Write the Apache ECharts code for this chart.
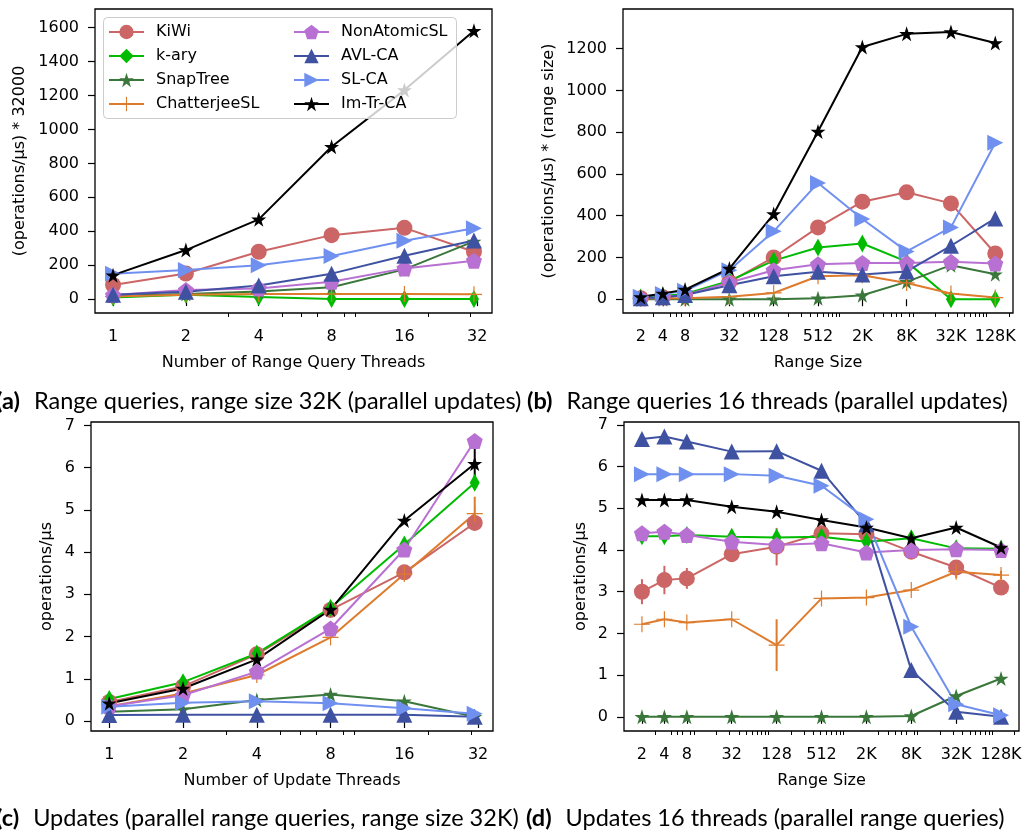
<!doctype html>
<html lang="en">
<head>
    <meta charset="UTF-8">
    <title>Range queries and updates</title>
    <script src="https://cdn.jsdelivr.net/npm/echarts@6/dist/echarts.min.js"></script>
    <style>
        html, body { margin: 0; padding: 0; background: #fff; }
        #chart { width: 1031px; height: 834px; }
    </style>
</head>
<body>
    <div id="chart"></div>

    <script>
        // --- series names / colours ---
        const names = ['KiWi', 'k-ary', 'SnapTree', 'ChatterjeeSL', 'NonAtomicSL', 'AVL-CA', 'SL-CA', 'Im-Tr-CA'];
        const colors = ['#cc6565', '#00bb00', '#3a773a', '#de7b2c', '#b870d2', '#3f52a2', '#7090f0', '#000000'];

        // --- x values and ticks ---
        const threads = [1, 2, 4, 8, 16, 31];
        const threadTicks = [1, 2, 4, 8, 16, 32];
        const threadMinor = [3, 5, 6, 7, 9, 10, 20, 30];
        const rangeSizes = [2, 4, 8, 32, 128, 512, 2048, 8192, 32768, 131072];
        const rangeTickLabels = ['2', '4', '8', '32', '128', '512', '2K', '8K', '32K', '128K'];
        const rangeMinor = [3, 5, 6, 7, 9, 10, 20, 30, 40, 50, 60, 70, 80, 90, 100, 200, 300, 400, 500, 600, 700, 800, 900,
            1000, 3000, 4000, 5000, 6000, 7000, 9000, 10000, 20000, 30000, 40000, 50000, 60000, 70000, 80000, 90000, 100000, 200000];
        const bigTicks = [0, 200, 400, 600, 800, 1000, 1200, 1400, 1600];
        const smallTicks = [0, 1, 2, 3, 4, 5, 6, 7];

        // --- (a) range queries, range size 32K ---
        const aKiWi = [83, 151, 279, 377, 420, 279];
        const aKary = [10, 25, 12, 0, 0, 0];
        const aSnap = [20, 30, 45, 70, 175, 340];
        const aChat = [15, 25, 30, 30, 30, 28];
        const aNonAt = [24, 53, 63, 102, 181, 226];
        const aAvl = [25, 43, 80, 150, 255, 345];
        const aSlca = [150, 171, 200, 254, 344, 417];
        const aImtr = [141, 289, 470, 898, 1232, 1582];

        // --- (b) range queries, 16 threads ---
        const bKiWi = [5, 10, 20, 83, 200, 344, 467, 512, 459, 219];
        const bKary = [8, 15, 25, 88, 185, 248, 267, 180, 0, 0];
        const bSnap = [0, 0, 0, 0, 0, 5, 19, 83, 163, 120];
        const bChat = [3, 5, 5, 12, 30, 110, 115, 78, 27, 8];
        const bNonAt = [5, 10, 20, 80, 139, 167, 174, 174, 179, 171];
        const bAvl = [5, 10, 20, 67, 110, 131, 118, 133, 256, 387];
        const bSlca = [12, 25, 40, 139, 325, 557, 384, 229, 344, 749];
        const bImtr = [11, 27, 46, 147, 408, 803, 1208, 1271, 1280, 1227];

        // --- (c) updates, range size 32K ---
        const cKiWi = [0.45, 0.82, 1.58, 2.63, 3.52, 4.69];
        const cKary = [0.52, 0.92, 1.6, 2.68, 4.18, 5.64];
        const cSnap = [0.22, 0.28, 0.5, 0.63, 0.47, 0.1];
        const cChat = [0.35, 0.65, 1.09, 1.98, 3.48, 4.91];
        const cNonAt = [0.35, 0.61, 1.17, 2.19, 4.06, 6.63];
        const cAvl = [0.14, 0.15, 0.15, 0.15, 0.15, 0.1];
        const cSlca = [0.34, 0.43, 0.47, 0.42, 0.3, 0.17];
        const cImtr = [0.42, 0.77, 1.46, 2.64, 4.75, 6.09];
        const cChatErr = [0, 0, 0, 0, 0, 0.4];
        const cImtrErr = [0, 0, 0, 0, 0, 0.5];

        // --- (d) updates, 16 threads ---
        const dKiWi = [3.0, 3.28, 3.32, 3.9, 4.08, 4.4, 4.38, 3.96, 3.58, 3.1];
        const dKary = [4.33, 4.33, 4.36, 4.32, 4.3, 4.32, 4.2, 4.28, 4.04, 4.03];
        const dSnap = [0, 0, 0, 0, 0, 0, 0, 0.02, 0.5, 0.92];
        const dChat = [2.22, 2.34, 2.26, 2.34, 1.72, 2.84, 2.86, 3.04, 3.48, 3.4];
        const dNonAt = [4.4, 4.44, 4.36, 4.2, 4.12, 4.16, 3.94, 4.0, 4.02, 4.0];
        const dAvl = [6.66, 6.72, 6.6, 6.36, 6.37, 5.9, 4.62, 1.12, 0.12, 0.0];
        const dSlca = [5.82, 5.82, 5.82, 5.82, 5.78, 5.54, 4.74, 2.16, 0.3, 0.04];
        const dImtr = [5.2, 5.2, 5.2, 5.04, 4.92, 4.72, 4.54, 4.28, 4.54, 4.06];
        const dKiWiErr = [0.3, 0.34, 0.25, 0, 0.45, 0, 0, 0, 0, 0];
        const dChatErr = [0, 0, 0, 0, 0.62, 0, 0, 0, 0.15, 0.1];

        const captions = [
            { tag: '(a)', text: 'Range queries, range size 32K (parallel updates)', left: -4, top: 388 },
            { tag: '(b)', text: 'Range queries 16 threads (parallel updates)', left: 527, top: 388 },
            { tag: '(c)', text: 'Updates (parallel range queries, range size 32K)', left: -4, top: 805 },
            { tag: '(d)', text: 'Updates 16 threads (parallel range queries)', left: 526, top: 805 }
        ];

        const FONT = "'DejaVu Sans', sans-serif";
        const starPath = 'path://M0,-1L0.2245,-0.309L0.951,-0.309L0.363,0.118L0.588,0.809L0,0.382L-0.588,0.809L-0.363,0.118L-0.951,-0.309L-0.2245,-0.309Z';
        const pentPath = 'path://M0,-1L0.951,-0.309L0.588,0.809L-0.588,0.809L-0.951,-0.309Z';
        const plusPath = 'path://M-0.075,-1H0.075V-0.075H1V0.075H0.075V1H-0.075V0.075H-1V-0.075H-0.075Z';
        const rightTri = 'path://M-1,-1L1,0L-1,1Z';
        const symbols = ['circle', 'diamond', starPath, plusPath, pentPath, 'triangle', rightTri, starPath];
        const symbolSizes = [16, [10, 18], 15, 16, 16, 16, 16, 15];

        const panels = [
            { xs: threads, ys: [aKiWi, aKary, aSnap, aChat, aNonAt, aAvl, aSlca, aImtr], errs: {} },
            { xs: rangeSizes, ys: [bKiWi, bKary, bSnap, bChat, bNonAt, bAvl, bSlca, bImtr], errs: {} },
            { xs: threads, ys: [cKiWi, cKary, cSnap, cChat, cNonAt, cAvl, cSlca, cImtr], errs: { 3: cChatErr, 7: cImtrErr } },
            { xs: rangeSizes, ys: [dKiWi, dKary, dSnap, dChat, dNonAt, dAvl, dSlca, dImtr], errs: { 0: dKiWiErr, 3: dChatErr } }
        ];

        const grids = [
            { left: 95, top: 9, width: 397, height: 304 },
            { left: 623, top: 9, width: 390, height: 304 },
            { left: 91, top: 422, width: 402, height: 309 },
            { left: 624, top: 422, width: 395, height: 309 }
        ].map(g => Object.assign(g, { show: true, borderColor: '#000', borderWidth: 1.3, outerBoundsMode: 'none' }));

        const xRanges = [[0.8423, 36.81], [1.1487, 228200], [0.8423, 36.81], [1.1487, 228200]];
        const xNames = ['Number of Range Query Threads', 'Range Size', 'Number of Update Threads', 'Range Size'];
        const yRanges = [[-82, 1710], [-66, 1390], [-0.236, 7.08], [-0.34, 7.07]];
        const yNames = ['(operations/µs) * 32000', '(operations/µs) * (range size)', 'operations/µs', 'operations/µs'];
        const yGaps = [66, 65, 35, 34];

        const xAxis = [];
        const yAxis = [];
        for (let p = 0; p < 4; p++) {
            const isRange = p % 2 === 1;
            const majors = isRange ? rangeSizes : threadTicks;
            xAxis.push({
                type: 'log', logBase: 2, gridIndex: p,
                min: xRanges[p][0], max: xRanges[p][1],
                name: xNames[p], nameLocation: 'middle', nameGap: 40,
                nameTextStyle: { fontFamily: FONT, fontSize: 16, color: '#000', lineHeight: 19 },
                axisLine: { show: false },
                splitLine: { show: false },
                minorTick: { show: false },
                axisTick: { show: true, customValues: majors, length: 7, lineStyle: { color: '#000', width: 1.2 } },
                axisLabel: {
                    customValues: majors, margin: 14,
                    fontFamily: FONT, fontSize: 16, color: '#000', lineHeight: 19,
                    formatter: v => isRange ? rangeTickLabels[rangeSizes.indexOf(v)] : String(v)
                }
            });
            yAxis.push({
                type: 'value', gridIndex: p,
                min: yRanges[p][0], max: yRanges[p][1],
                name: yNames[p], nameLocation: 'middle', nameGap: yGaps[p],
                nameTextStyle: { fontFamily: FONT, fontSize: 16, color: '#000', lineHeight: 19 },
                axisLine: { show: false },
                splitLine: { show: false },
                axisTick: { show: true, customValues: p < 2 ? bigTicks : smallTicks, length: 7, lineStyle: { color: '#000', width: 1.2 } },
                axisLabel: {
                    customValues: p < 2 ? bigTicks : smallTicks, margin: 16,
                    fontFamily: FONT, fontSize: 16, color: '#000',
                    formatter: v => String(v)
                }
            });
        }
        // minor ticks of the log axes
        for (let p = 0; p < 4; p++) {
            const minors = p % 2 === 1 ? rangeMinor : threadMinor;
            xAxis.push({
                type: 'log', logBase: 2, gridIndex: p, position: 'bottom',
                min: xRanges[p][0], max: xRanges[p][1],
                axisLine: { show: false }, splitLine: { show: false },
                axisLabel: { show: false },
                axisTick: { show: true, customValues: minors, length: 4, lineStyle: { color: '#000', width: 1 } }
            });
        }

        const series = [];
        panels.forEach((panel, p) => {
            panel.ys.forEach((vals, k) => {
                series.push({
                    name: names[k], type: 'line',
                    xAxisIndex: p, yAxisIndex: p,
                    data: panel.xs.map((x, i) => [x, vals[i]]),
                    symbol: symbols[k], symbolSize: symbolSizes[k],
                    itemStyle: { color: colors[k], borderWidth: 0 },
                    lineStyle: { color: colors[k], width: 2 },
                    emphasis: { disabled: true },
                    z: 2
                });
                const err = panel.errs[k];
                if (err) {
                    series.push({
                        type: 'custom', xAxisIndex: p, yAxisIndex: p,
                        data: panel.xs.map((x, i) => [x, vals[i], err[i]]).filter(d => d[2] > 0),
                        renderItem: (params, api) => {
                            const lo = api.coord([api.value(0), api.value(1) - api.value(2)]);
                            const hi = api.coord([api.value(0), api.value(1) + api.value(2)]);
                            return {
                                type: 'line',
                                shape: { x1: lo[0], y1: lo[1], x2: hi[0], y2: hi[1] },
                                style: { stroke: colors[k], lineWidth: 2 }
                            };
                        },
                        z: 2, silent: true
                    });
                }
            });
        });

        const legendBase = {
            orient: 'vertical', top: 23, padding: 0,
            itemWidth: 35, itemHeight: 18, itemGap: 6,
            selectedMode: false,
            textStyle: { fontFamily: FONT, fontSize: 16, color: '#000', lineHeight: 18, padding: [0, 0, 0, 7] }
        };

        const chart = echarts.init(document.getElementById('chart'));
        chart.setOption({
            animation: false,
            backgroundColor: '#fff',
            title: captions.map(c => ({
                text: '{b|' + c.tag + '} ' + c.text,
                left: c.left, top: c.top, padding: 0,
                textStyle: {
                    fontFamily: 'Lato', fontSize: 23.5, fontWeight: 'normal', color: '#000', lineHeight: 26,
                    rich: { b: { fontFamily: 'Lato', fontSize: 23.5, fontWeight: 'bold', color: '#000', lineHeight: 26, padding: [0, 8, 0, 0] } }
                }
            })),
            grid: grids,
            xAxis: xAxis,
            yAxis: yAxis,
            legend: [
                Object.assign({ left: 108, data: names.slice(0, 4) }, legendBase),
                Object.assign({ left: 293, data: names.slice(4) }, legendBase)
            ],
            graphic: [{
                type: 'rect', left: 103, top: 17, z: 3,
                shape: { width: 353, height: 101, r: 4 },
                style: { fill: 'rgba(255,255,255,0.8)', stroke: '#cccccc', lineWidth: 1 }
            }],
            series: series
        });
    </script>
</body>
</html>
